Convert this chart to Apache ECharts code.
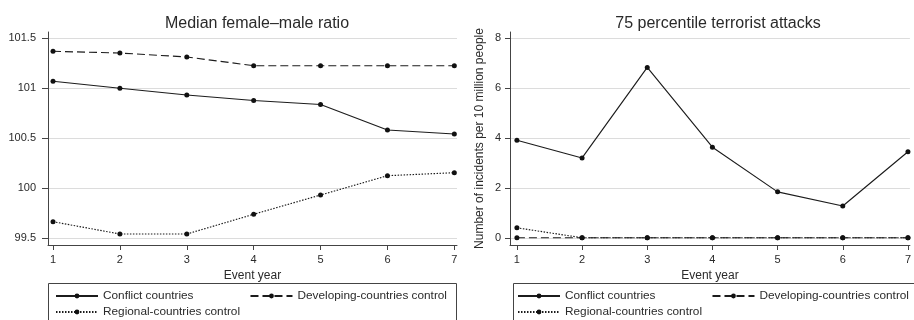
<!DOCTYPE html>
<html>
<head>
<meta charset="utf-8">
<script src="https://cdn.jsdelivr.net/npm/echarts@6/dist/echarts.min.js"></script>
<style>
html,body{margin:0;padding:0;background:#fff;}
#c{width:914px;height:320px;}
</style>
</head>
<body>
<div id="c"></div>
<script>
// ---- data ----
var eventYears = [1, 2, 3, 4, 5, 6, 7];
var ratioConflict   = [101.067, 100.997, 100.93, 100.875, 100.835, 100.58, 100.54];
var ratioDeveloping = [101.367, 101.35, 101.31, 101.223, 101.223, 101.223, 101.223];
var ratioRegional   = [99.663, 99.54, 99.54, 99.737, 99.93, 100.123, 100.153];
var attacksConflict   = [3.91, 3.2, 6.83, 3.63, 1.84, 1.275, 3.45];
var attacksDeveloping = [0, 0, 0, 0, 0, 0, 0];
var attacksRegional   = [0.40, 0, 0, 0, 0, 0, 0];
var ratioTicks   = [99.5, 100, 100.5, 101, 101.5];
var attacksTicks = [0, 2, 4, 6, 8];
var seriesNames = ['Conflict countries', 'Developing-countries control', 'Regional-countries control'];
var titles = ['Median female\u2013male ratio', '75 percentile terrorist attacks'];
var xName = 'Event year';
var yNameRight = 'Number of incidents per 10 million people';

function pairs(xs, ys) { return xs.map(function (x, i) { return [x, ys[i]]; }); }

var FONT = 'Liberation Sans, Arial, Helvetica, sans-serif';
var LINE = '#1c1c1c';
var AX = '#444';
var TXT = '#2a2a2a';

function xAxis(gi, min, max) {
  return {
    type: 'value', gridIndex: gi, min: min, max: max,
    name: xName, nameLocation: 'middle', nameGap: 21,
    nameTextStyle: { fontFamily: FONT, fontSize: 12, color: TXT },
    axisLine: { show: true, onZero: false, lineStyle: { color: AX, width: 1 } },
    axisTick: { show: true, length: 5, customValues: eventYears, lineStyle: { color: AX } },
    axisLabel: { customValues: eventYears, fontFamily: FONT, fontSize: 11, color: TXT, margin: 9 },
    splitLine: { show: false }
  };
}
function yAxis(gi, min, max, ticks, fmt, tickLen, margin) {
  return {
    type: 'value', gridIndex: gi, min: min, max: max,
    axisLine: { show: true, onZero: false, lineStyle: { color: AX, width: 1 } },
    axisTick: { show: true, length: tickLen, customValues: ticks, lineStyle: { color: AX } },
    axisLabel: { customValues: ticks, fontFamily: FONT, fontSize: 11, color: TXT, margin: margin,
      formatter: fmt },
    splitLine: { show: true, lineStyle: { color: '#dcdcdc', width: 1 } }
  };
}
function lineSeries(name, data, gi, type) {
  return {
    name: name, type: 'line', xAxisIndex: gi, yAxisIndex: gi,
    data: data, symbol: 'circle', symbolSize: 5, showSymbol: true,
    lineStyle: { color: LINE, width: 1.15, type: type },
    itemStyle: { color: '#111' },
    emphasis: { disabled: true }, animation: false
  };
}
var dashes = ['solid', [8, 4], [1.5, 1.5]];

var legendCommon = {
  orient: 'horizontal', padding: 0, itemWidth: 42, itemHeight: 6, itemGap: 56,
  width: 600,
  textStyle: { fontFamily: FONT, fontSize: 11.8, color: TXT },
  selectedMode: false
};
function legend(extra) { return Object.assign({}, legendCommon, extra); }

var option = {
  backgroundColor: '#fff',
  animation: false,
  title: [
    { text: titles[0], left: 252, top: 11, textAlign: 'center',
      textStyle: { fontFamily: FONT, fontSize: 16, fontWeight: 'normal', color: TXT } },
    { text: titles[1], left: 713, top: 11, textAlign: 'center',
      textStyle: { fontFamily: FONT, fontSize: 16, fontWeight: 'normal', color: TXT } }
  ],
  grid: [
    { left: 48, width: 409, top: 32, bottom: 75, containLabel: false },
    { left: 510, width: 404, top: 32, bottom: 75, containLabel: false }
  ],
  xAxis: [ xAxis(0, 0.925, 7.04), xAxis(1, 0.894, 7.03) ],
  yAxis: [
    yAxis(0, 99.43, 101.56, ratioTicks, function (v) { return String(Math.round(v * 10) / 10); }, 6, 12),
    Object.assign(yAxis(1, -0.29, 8.25, attacksTicks, function (v) { return String(Math.round(v)); }, 5, 9), {
      name: yNameRight, nameLocation: 'middle', nameGap: 24,
      nameTextStyle: { fontFamily: FONT, fontSize: 12, color: TXT }
    })
  ],
  legend: [
    legend({ left: 55, top: 290, data: [seriesNames[0], seriesNames[1]] }),
    legend({ left: 55, top: 306, data: [seriesNames[2]] }),
    legend({ left: 517, top: 290, data: [seriesNames[0], seriesNames[1]] }),
    legend({ left: 517, top: 306, data: [seriesNames[2]] })
  ],
  graphic: [
    { type: 'rect', shape: { x: 48.5, y: 283.5, width: 408, height: 60 },
      style: { fill: 'none', stroke: '#444', lineWidth: 1 }, silent: true },
    { type: 'rect', shape: { x: 513.5, y: 283.5, width: 405, height: 60 },
      style: { fill: 'none', stroke: '#444', lineWidth: 1 }, silent: true }
  ],
  series: [
    lineSeries(seriesNames[0], pairs(eventYears, ratioConflict), 0, dashes[0]),
    lineSeries(seriesNames[1], pairs(eventYears, ratioDeveloping), 0, dashes[1]),
    lineSeries(seriesNames[2], pairs(eventYears, ratioRegional), 0, dashes[2]),
    lineSeries(seriesNames[0], pairs(eventYears, attacksConflict), 1, dashes[0]),
    lineSeries(seriesNames[2], pairs(eventYears, attacksRegional), 1, dashes[2]),
    lineSeries(seriesNames[1], pairs(eventYears, attacksDeveloping), 1, dashes[1])
  ]
};
var chart = echarts.init(document.getElementById('c'), null, { renderer: 'canvas' });
chart.setOption(option);
</script>
</body>
</html>
